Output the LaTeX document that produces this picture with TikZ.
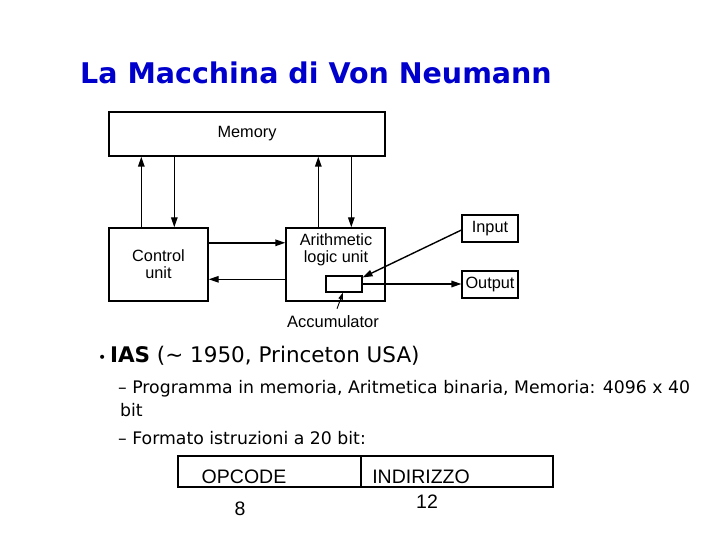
\documentclass[tikz,border=0pt]{standalone}
\usepackage{fontspec}
\setmainfont{Liberation Sans}
\newfontfamily\tahoma{DejaVu Sans}
\usetikzlibrary{arrows.meta,calc}
\definecolor{titleblue}{RGB}{0,0,205}
\tikzset{
  blk/.style={draw=black,line width=1.4pt,rectangle,inner sep=0pt,align=center,font=\fontsize{16.3}{17}\selectfont},
  arr/.style={line width=1.4pt,-{Triangle[length=10pt,width=6.5pt]}},
  txt/.style={inner sep=0pt,anchor=base west},
  ibox/.style={draw=black,line width=1.4pt,rectangle,inner sep=0pt},
  itxt/.style={inner sep=0pt,font=\fontsize{19.5}{21}\selectfont}
}
\begin{document}
\begin{tikzpicture}[x=1pt,y=-1pt]
\useasboundingbox (0,0) rectangle (720,540);
% title
\node[txt,text=titleblue,font=\tahoma\bfseries\fontsize{28.5}{31}\selectfont] (title) at (80,84) {La Macchina di Von Neumann};
% diagram
\node[blk,minimum width=276pt,minimum height=44pt] (mem) at (247,134) {Memory};
\node[blk,minimum width=99pt,minimum height=73pt] (cu) at (158.5,264.5) {Control\\unit};
\node[blk,minimum width=99pt,minimum height=73pt] (alu) at (335.5,264.5) {};
\node[inner sep=0pt,align=center,font=\fontsize{16.3}{17}\selectfont] (alut) at (336,250) {Arithmetic\\logic unit};
\node[blk,line width=1.1pt,minimum width=36pt,minimum height=16pt] (acc) at (344,284) {};
\node[blk,line width=1.1pt,minimum width=56pt,minimum height=27pt] (in) at (490,228.5) {Input};
\node[blk,line width=1.1pt,minimum width=56pt,minimum height=27pt] (out) at (490,284.5) {Output};
\node[inner sep=0pt,font=\fontsize{16.5}{17}\selectfont] (accl) at (333,322) {Accumulator};
% arrows
\draw[arr] ([xshift=33pt]cu.north west) -- ([xshift=33pt]cu.north west |- mem.south);
\draw[arr] ([xshift=66pt]cu.north west |- mem.south) -- ([xshift=66pt]cu.north west);
\draw[arr] ([xshift=33pt]alu.north west) -- ([xshift=33pt]alu.north west |- mem.south);
\draw[arr] ([xshift=66pt]alu.north west |- mem.south) -- ([xshift=66pt]alu.north west);
\draw[arr] ([yshift=-15.5pt]cu.north east) -- ([yshift=-15.5pt]alu.north west);
\draw[arr] ([yshift=-52pt]alu.north west) -- ([yshift=-52pt]cu.north east);
\draw[arr] ([yshift=-1.5pt]in.west) -- ([yshift=-2pt]acc.north east);
\draw[arr] (acc.east) -- (acc.east -| out.west);
\draw[line width=0.9pt,-{Triangle[length=7pt,width=4.5pt]}] ([xshift=4pt,yshift=7pt]accl.north) -- ([xshift=-1pt]acc.south);
% bullets
\node[txt,font=\tahoma\fontsize{21.5}{24}\selectfont] (b1) at (98,362) {\fontsize{14}{14}\selectfont\textbullet\fontsize{21.5}{24}\selectfont\,\textbf{IAS} (\textasciitilde\ 1950, Princeton USA)};
\node[txt,font=\tahoma\fontsize{17.3}{20}\selectfont] (b2) at (118,393) {– Programma in memoria, Aritmetica binaria, Memoria: 4096 x 40};
\node[txt,font=\tahoma\fontsize{17.3}{20}\selectfont] (b3) at (120,416) {bit};
\node[txt,font=\tahoma\fontsize{17.3}{20}\selectfont] (b4) at (118,444) {– Formato istruzioni a 20 bit:};
% instruction format
\node[ibox,minimum width=183pt,minimum height=31pt] (op) at (269.5,471.5) {};
\node[ibox,minimum width=192pt,minimum height=31pt] (ind) at (457,471.5) {};
\node[itxt] (opt) at (244,477) {OPCODE};
\node[itxt] (indt) at (421,477) {INDIRIZZO};
\node[itxt] (n8) at (240,509) {8};
\node[itxt] (n12) at (427,502) {12};
\end{tikzpicture}
\end{document}
